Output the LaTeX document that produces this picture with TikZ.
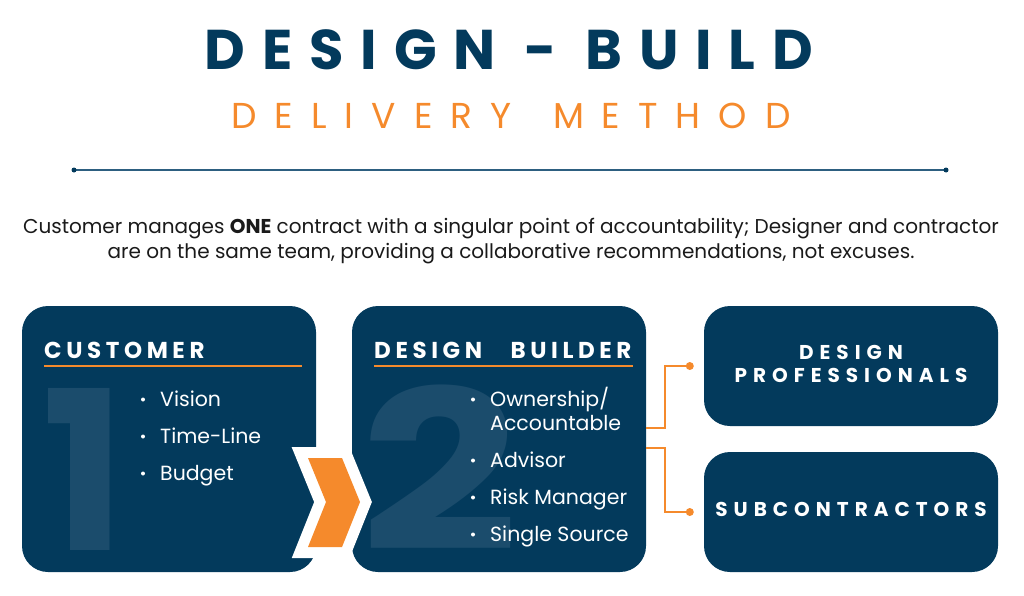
\documentclass[tikz,border=0pt]{standalone}
\usepackage{graphicx}
\usepackage{fontspec}
\setmainfont{Poppins}
\usetikzlibrary{positioning}

\definecolor{dbnavy}{HTML}{033A5C}
\definecolor{dborange}{HTML}{F58A2C}
\definecolor{dbdigit}{HTML}{1B4C6C}
\definecolor{dbrule}{HTML}{2D5F80}
\definecolor{dbtext}{HTML}{1A1A1A}

\begin{document}
\begin{tikzpicture}[x=1pt, y=-1pt, line join=miter,
        panel/.style={fill=dbnavy, rounded corners=26pt, inner sep=0pt,
                      minimum width=294pt},
        head/.style={anchor=base west, inner sep=0pt, text=white,
                     font=\fontsize{23}{23}\selectfont\bfseries\addfontfeature{LetterSpace=20}},
        item/.style={anchor=base west, inner sep=0pt, text=white,
                     font=\fontsize{20.5}{21}\selectfont},
        digit/.style={anchor=base, inner sep=0pt, text=dbdigit,
                      font=\fontsize{222}{222}\selectfont\bfseries},
        tag/.style={inner sep=0pt, text=white, align=center,
                    font=\fontsize{20}{23}\selectfont\bfseries\addfontfeature{LetterSpace=30}},
        link/.style={draw=dborange, line width=2pt},
        tip/.style={circle, fill=dborange, inner sep=0pt, minimum size=8pt}]

    \useasboundingbox (0,0) rectangle (1024,595);

    % --- title ---
    \node[inner sep=0pt, text=dbnavy,
          font=\fontsize{56}{56}\selectfont\bfseries\addfontfeature{LetterSpace=30}]
          (title) at (509,50) {DESIGN - BUILD};
    \node[inner sep=0pt, text=dborange,
          font=\fontsize{36}{36}\selectfont\addfontfeature{LetterSpace=50}]
          (subtitle) at (511,116) {DELIVERY\hspace{14pt} METHOD};

    \coordinate (ruleL) at (74,170);
    \coordinate (ruleR) at (946,170);
    \draw[dbrule, line width=1.5pt] (ruleL) -- (ruleR);
    \fill[dbnavy] (ruleL) circle (2.5pt) (ruleR) circle (2.5pt);

    % --- summary ---
    \node[anchor=base, inner sep=0pt, text=dbtext, font=\fontsize{20}{20}\selectfont]
          (line1) at (511,233) {Customer manages \textbf{ONE} contract with a singular point of accountability; Designer and contractor};
    \node[anchor=base, inner sep=0pt, text=dbtext, font=\fontsize{20}{20}\selectfont]
          (line2) at (511,258) {are on the same team, providing a collaborative recommendations, not excuses.};

    % --- panels ---
    \node[panel, minimum height=266pt] (cust) at (169,439) {};
    \node[panel, minimum height=266pt] (bldr) at (499,439) {};
    \node[panel, minimum height=120pt] (prof) at (851,366) {};
    \node[panel, minimum height=120pt] (subs) at (851,512) {};

    % --- big digits ---
    \node[digit] (one) at (84,550) {1};
    \node[digit] (two) at (440,550) {\scalebox{1.25}[1]{2}};

    % --- headings ---
    \node[head] (custhead) at (44,358) {CUSTOMER};
    \node[head] (bldrhead) at (374,358) {DESIGN\hspace{19pt} BUILDER};
    \draw[dborange, line width=1.5pt] (44,366) -- (302,366);
    \draw[dborange, line width=1.5pt] (374,366) -- (633,366);

    \node[tag] (proftext) at ([yshift=2pt]prof) {DESIGN\\PROFESSIONALS};
    \node[tag] (substext) at ([yshift=3pt]subs) {SUBCONTRACTORS};

    % --- bullet lists ---
    \foreach \txt/\yy [count=\i] in {Vision/406, Time-Line/443, Budget/480} {
        \node[item] (c\i) at (160,\yy) {\txt};
        \fill[white] ([xshift=-17pt, yshift=6.5pt]c\i.base west) circle (2pt);
    }
    \foreach \txt/\yy [count=\i] in {{Ownership/}/406, Advisor/467, Risk Manager/504, Single Source/541} {
        \node[item] (b\i) at (490,\yy) {\txt};
        \fill[white] ([xshift=-17pt, yshift=6.5pt]b\i.base west) circle (2pt);
    }
    \node[item] (b1a) at (490,430) {Accountable};

    % --- chevron ---
    \coordinate (chA) at (308,458);
    \coordinate (chB) at (342,458);
    \coordinate (chC) at (360,502);
    \coordinate (chD) at (342,547);
    \coordinate (chE) at (308,547);
    \coordinate (chF) at (326,502);
    \filldraw[white, line width=22pt] (chA) -- (chB) -- (chC) -- (chD) -- (chE) -- (chF) -- cycle;
    \fill[dborange] (chA) -- (chB) -- (chC) -- (chD) -- (chE) -- (chF) -- cycle;

    % --- links ---
    \coordinate (profin) at ([xshift=-14pt]prof.west);
    \coordinate (subsin) at ([xshift=-14pt]subs.west);
    \coordinate (fork) at (665,439);
    \draw[link] ([yshift=11pt]bldr.east) -| (fork |- profin) -- (profin);
    \draw[link] ([yshift=-9pt]bldr.east) -| (fork |- subsin) -- (subsin);
    \node[tip] (profdot) at (profin) {};
    \node[tip] (subsdot) at (subsin) {};

\end{tikzpicture}
\end{document}
